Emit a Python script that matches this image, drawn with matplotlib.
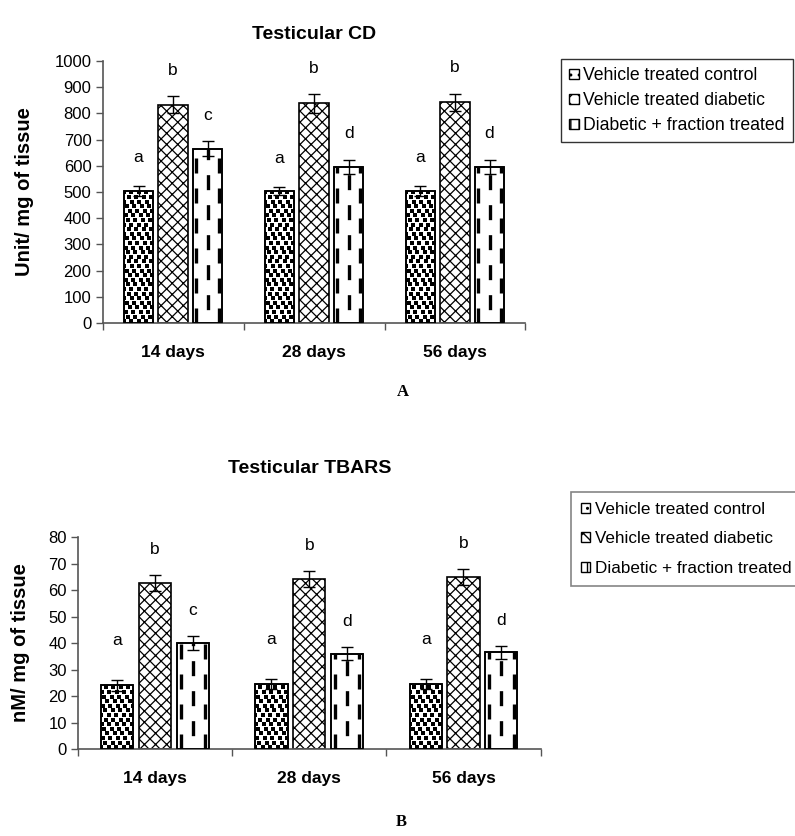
import matplotlib
matplotlib.use("Agg")
import matplotlib.pyplot as plt
import numpy as np
from matplotlib.patches import Patch

plt.rcParams['font.family'] = ['Liberation Sans', 'DejaVu Sans']

days = ["14 days", "28 days", "56 days"]
series = ["Vehicle treated control", "Vehicle treated diabetic", "Diabetic + fraction treated"]

cd_control = [503, 503, 503]
cd_diabetic = [833, 838, 843]
cd_fraction = [665, 597, 597]
cd_control_err = [20, 15, 20]
cd_diabetic_err = [32, 37, 33]
cd_fraction_err = [28, 27, 27]
cd_letters = [["a", "a", "a"], ["b", "b", "b"], ["c", "d", "d"]]

tb_control = [24.0, 24.5, 24.5]
tb_diabetic = [62.5, 64.0, 65.0]
tb_fraction = [40.0, 36.0, 36.5]
tb_control_err = [2.0, 2.0, 2.0]
tb_diabetic_err = [3.0, 3.0, 3.0]
tb_fraction_err = [2.5, 2.5, 2.5]
tb_letters = [["a", "a", "a"], ["b", "b", "b"], ["c", "d", "d"]]

fig = plt.figure(figsize=(7.95, 8.36), dpi=100)

hatches = [None, "xxx", None]
hatch_lws = [1.0, 0.9, 1.0]
STAGGER = [0.0, 0.55, 0.25, 0.8, 0.4, 0.1, 0.65]


def confetti(ax, bar, px_w, px_h):
    # decorative square "confetti" fill, clipped to the bar
    bx, bw, bh = bar.get_x(), bar.get_width(), bar.get_height()
    x0, x1 = ax.get_xlim()
    y0, y1 = ax.get_ylim()
    dx = (x1 - x0) / px_w * 7.5
    dy = (y1 - y0) / px_h * 4.6
    nrow = int(bh / dy) + 2
    ncol = int(bw / dx) + 2
    xs, ys = [], []
    for r in range(nrow):
        sh = STAGGER[r % len(STAGGER)] * dx
        for c in range(-1, ncol):
            xs.append(bx + sh + c * dx)
            ys.append(r * dy + dy * 0.4)
    sc = ax.scatter(xs, ys, marker="s", s=5.0, color="black", linewidths=0, zorder=3)
    sc.set_clip_path(bar)


def draw_panel(ax, vals, errs, letters, ylim, ystep, ylabel, title, letter_off, title_pad,
               labelpad, px_w, px_h):
    x = np.arange(len(days))
    w = 0.21
    offs = [-(w + 0.035), 0, (w + 0.035)]
    ax.set_xlim(-0.5, 2.5)
    ax.set_ylim(*ylim)
    for i in range(3):
        with plt.rc_context({'hatch.linewidth': hatch_lws[i]}):
            bars = ax.bar(x + offs[i], vals[i], width=w, color="white", edgecolor="black",
                          linewidth=1.2, hatch=hatches[i], zorder=2)
        if i == 0:
            for b in bars:
                confetti(ax, b, px_w, px_h)
                ax.bar(b.get_x() + b.get_width() / 2, b.get_height(), width=b.get_width(),
                       fill=False, edgecolor="black", linewidth=1.2, zorder=4)
        if i == 2:
            for b in bars:
                bx, bw, bh = b.get_x(), b.get_width(), b.get_height()
                for fx, phase in [(0.12, 0), (0.5, 5), (0.88, 0)]:
                    ln, = ax.plot([bx + fx * bw, bx + fx * bw], [0, bh], color="black",
                                  lw=2.4, linestyle=(phase, (4.5, 4.5)), zorder=3,
                                  solid_capstyle="butt", dash_capstyle="butt")
                    ln.set_clip_path(b)
                ax.bar(bx + bw / 2, bh, width=bw, fill=False,
                       edgecolor="black", linewidth=1.2, zorder=4)
        ax.errorbar(x + offs[i], vals[i], yerr=errs[i], fmt="none", ecolor="black",
                    elinewidth=1.0, capsize=4.5, capthick=1.0, zorder=5)
        for j in range(len(days)):
            ax.annotate(letters[i][j], (x[j] + offs[i], vals[i][j] + errs[i][j]),
                        xytext=(0, letter_off[i]), textcoords="offset points",
                        ha="center", va="bottom", fontsize=12.5)
    ax.set_yticks(np.arange(ylim[0], ylim[1] + ystep / 2, ystep))
    ax.set_xticks(x)
    ax.set_xticklabels(days, fontweight="bold", fontsize=12.5)
    ax.set_xticks([-0.5, 0.5, 1.5, 2.5], minor=True)
    ax.tick_params(axis="x", which="major", length=0, pad=16)
    ax.tick_params(axis="x", which="minor", length=5, width=1.0, color="#555555")
    ax.tick_params(axis="y", labelsize=12, length=5, width=1.0, color="#555555", pad=3)
    for s in ["top", "right"]:
        ax.spines[s].set_visible(False)
    for s in ["left", "bottom"]:
        ax.spines[s].set_color("#555555")
        ax.spines[s].set_linewidth(1.2)
    ax.set_ylabel(ylabel, fontweight="bold", fontsize=14.5, labelpad=labelpad)
    ax.set_title(title, fontweight="bold", fontsize=14, pad=title_pad)


ax1 = fig.add_axes([0.129, 0.6136, 0.532, 0.3134])
draw_panel(ax1, [cd_control, cd_diabetic, cd_fraction],
           [cd_control_err, cd_diabetic_err, cd_fraction_err], cd_letters,
           (0, 1000), 100, "Unit/ mg of tissue", "Testicular CD", [15, 13, 13], 16,
           15, 0.532 * 795, 0.3134 * 836)

ax2 = fig.add_axes([0.098, 0.104, 0.582, 0.2536])
draw_panel(ax2, [tb_control, tb_diabetic, tb_fraction],
           [tb_control_err, tb_diabetic_err, tb_fraction_err], tb_letters,
           (0, 80), 10, "nM/ mg of tissue", "Testicular TBARS", [23, 13, 13], 46,
           13, 0.582 * 795, 0.2536 * 836)


def legend_handles():
    hs = []
    for i in range(3):
        hs.append(Patch(facecolor="white", edgecolor="black",
                        hatch=["..", "xx", "||"][i], label=series[i]))
    return hs


with plt.rc_context({'hatch.linewidth': 1.0}):
    leg1 = fig.legend(handles=legend_handles(), loc="upper left", bbox_to_anchor=(0.706, 0.929),
                      fontsize=12.7, frameon=True, fancybox=False, handlelength=0.55,
                      handleheight=0.55, handletextpad=0.25, borderpad=0.45, labelspacing=0.45,
                      borderaxespad=0)
    leg1.get_frame().set_edgecolor("black")
    leg1.get_frame().set_linewidth(1.0)

    leg2 = fig.legend(handles=legend_handles(), loc="upper left", bbox_to_anchor=(0.718, 0.412),
                      fontsize=12.3, frameon=True, fancybox=False, handlelength=0.55,
                      handleheight=0.55, handletextpad=0.25, borderpad=0.6, labelspacing=0.85,
                      borderaxespad=0)
    leg2.get_frame().set_edgecolor("#666666")
    leg2.get_frame().set_linewidth(1.2)

fig.text(0.507, 0.531, "A", fontsize=12, fontweight="bold", family="Liberation Serif",
         ha="center", va="center")
fig.text(0.505, 0.017, "B", fontsize=12, fontweight="bold", family="Liberation Serif",
         ha="center", va="center")

fig.savefig("out.png", dpi=100)
